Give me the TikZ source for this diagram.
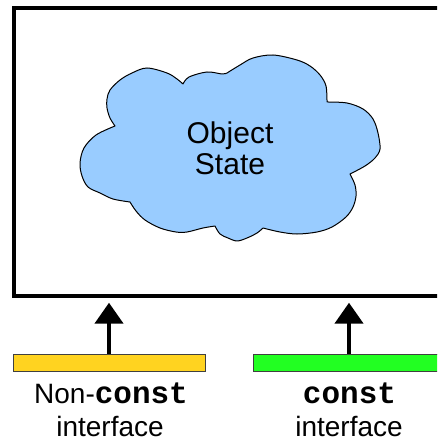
\documentclass[tikz,border=0pt]{standalone}
\usepackage{fontspec}
\setmainfont{Liberation Sans}
\setmonofont{Liberation Mono}
\usetikzlibrary{arrows.meta}
\definecolor{cloudblue}{HTML}{99CCFF}
\definecolor{baryellow}{HTML}{FFD320}
\definecolor{bargreen}{HTML}{22FF22}
\newcommand{\cst}{{\fontsize{31}{32}\selectfont\ttfamily\bfseries const}}
\tikzset{
  x=1pt, y=-1pt,
  outerbox/.style={draw=black, line width=4pt, minimum width=432pt, minimum height=288pt, inner sep=0pt},
  ifacebar/.style={draw=black!75, line width=0.9pt, minimum width=192pt, minimum height=17pt, inner sep=0pt},
  lbl/.style={font=\fontsize{28}{32}\selectfont, inner sep=0pt, anchor=base},
  cloudlbl/.style={font=\fontsize{30}{32}\selectfont, inner sep=0pt, anchor=base},
  uparrow/.style={line width=4.5pt, -{Triangle[width=28pt,length=21pt]}, shorten >=4.7pt},
  cloudshape/.style={draw=black, line width=1pt, fill=cloudblue, line join=round},
  lobe/.style={smooth, tension=0.55}
}
\begin{document}
\begin{tikzpicture}
\clip (0,0) rectangle (437,443);
\fill[white] (0,0) rectangle (437,443);
\node[outerbox] (box) at (230,152) {};
\draw[cloudshape]
  plot[lobe] coordinates {(115,126) (110,118) (107,108) (107,99) (110,90) (120,80) (132,73) (147,68) (167,73) (177,79) (183,84)}
  -- plot[lobe] coordinates {(183,84) (189,77) (207,72) (222,74) (227,73)}
  -- plot[lobe] coordinates {(227,73) (240,65) (253,58) (273,55) (297,60) (310,66) (320,75) (326,86) (327,102)}
  -- plot[lobe] coordinates {(327,102) (347,103) (363,109) (373,119) (378,133) (380,149) (375,158) (365,166) (350,174)}
  -- plot[lobe] coordinates {(350,174) (355,185) (356,196) (353,207) (346,217) (332,227) (317,232) (297,234) (280,232) (263,228)}
  -- plot[lobe] coordinates {(263,228) (257,233) (247,238) (237,241) (228,238) (220,234) (215,226)}
  -- plot[lobe] coordinates {(215,226) (203,228) (187,232) (176,232) (160,228) (145,220) (136,211) (130,202)}
  -- plot[lobe] coordinates {(130,202) (113,199) (100,193) (88,187) (82,176) (80,163) (84,148) (96,135) (115,126)}
  -- cycle;
\node[cloudlbl] (obj) at (230,143.3) {Object};
\node[cloudlbl] (state) at (230,175) {State};
\node[ifacebar, fill=baryellow] (nc) at (109,362.5) {};
\node[ifacebar, fill=bargreen] (c) at (349,362.5) {};
\draw[uparrow] (nc.north) -- (nc.north |- box.south);
\draw[uparrow] (c.north) -- (c.north |- box.south);
\node[lbl] (nclbl) at (111,403.3) {Non-\cst};
\node[lbl] (ncif) at (110,436) {interface};
\node[lbl] (clbl) at (349.5,403.3) {\cst};
\node[lbl] (cif) at (349,436) {interface};
\end{tikzpicture}
\end{document}
